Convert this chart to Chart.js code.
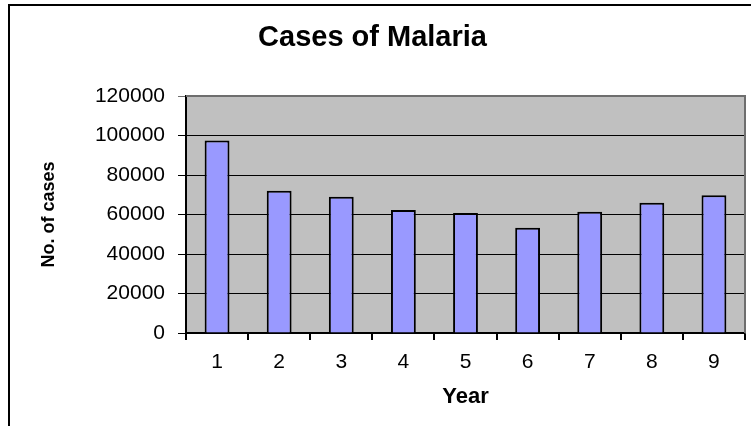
<!DOCTYPE html>
<html>
<head>
<meta charset="utf-8">
<script src="https://cdn.jsdelivr.net/npm/chart.js@4"></script>
<style>
  html, body { margin: 0; padding: 0; background: #ffffff; }
  canvas { display: block; }
</style>
</head>
<body>
<canvas id="c" width="751" height="426"></canvas>
<script>
const years = ['1', '2', '3', '4', '5', '6', '7', '8', '9'];
const cases = [97500, 72000, 69000, 62300, 60800, 53300, 61400, 66000, 69700];
const yTicks = [0, 20000, 40000, 60000, 80000, 100000, 120000];

const FONT = "'Liberation Sans', Arial, sans-serif";

const frame = {
  id: 'frame',
  beforeDraw(chart) {
    const { ctx, chartArea: a } = chart;
    ctx.save();
    ctx.fillStyle = '#C0C0C0';
    ctx.fillRect(a.left, a.top, a.right - a.left, a.bottom - a.top);
    ctx.restore();
  },
  afterDraw(chart) {
    const { ctx, chartArea: a } = chart;
    ctx.save();
    ctx.strokeStyle = '#6e6e6e';
    ctx.lineWidth = 2;
    ctx.beginPath();
    ctx.moveTo(a.left, a.top);
    ctx.lineTo(a.right, a.top);
    ctx.lineTo(a.right, a.bottom);
    ctx.stroke();
    ctx.strokeStyle = '#000';
    ctx.lineWidth = 2;
    ctx.strokeRect(9, 5, 900, 600);
    ctx.restore();
  }
};

new Chart(document.getElementById('c'), {
  type: 'bar',
  data: {
    labels: years,
    datasets: [{
      data: cases,
      backgroundColor: '#9999FF',
      borderColor: '#000000',
      borderWidth: 2,
      barPercentage: 0.4,
      categoryPercentage: 1.0
    }]
  },
  plugins: [frame],
  options: {
    responsive: false,
    animation: false,
    devicePixelRatio: 1,
    layout: { padding: { left: 0, right: 6, top: 0, bottom: 0 } },
    plugins: {
      legend: { display: false },
      tooltip: { enabled: false },
      title: {
        display: true,
        text: 'Cases of Malaria',
        color: '#000',
        font: { family: FONT, size: 29, weight: 'bold' },
        padding: { top: 20.6, bottom: 40.6 }
      }
    },
    scales: {
      x: {
        afterFit(scale) { scale.height = 93; },
        grid: {
          offset: true,
          drawOnChartArea: false,
          drawTicks: true,
          tickLength: 7,
          color: '#000',
          lineWidth: 2
        },
        border: { display: true, color: '#000', width: 1.5 },
        ticks: {
          color: '#000',
          font: { family: FONT, size: 21 },
          padding: 10,
          maxRotation: 0
        },
        title: {
          display: true,
          text: 'Year',
          color: '#000',
          font: { family: FONT, size: 22, weight: 'bold' },
          padding: { top: 0, bottom: 16 }
        }
      },
      y: {
        min: yTicks[0],
        max: yTicks[yTicks.length - 1],
        afterFit(scale) { scale.width = 186; },
        afterBuildTicks(scale) { scale.ticks = yTicks.map(v => ({ value: v })); },
        grid: {
          drawTicks: true,
          tickLength: 8,
          color: (ctx) => (ctx.tick && ctx.tick.value === 120000) ? '#6e6e6e' : '#000',
          lineWidth: 1
        },
        border: { display: true, color: '#000', width: 2 },
        ticks: {
          color: '#000',
          font: { family: FONT, size: 21 },
          padding: 13,
          callback: (v) => String(v)
        },
        title: {
          display: true,
          text: 'No. of cases',
          color: '#000',
          font: { family: FONT, size: 18, weight: 'bold' },
          padding: { top: 38.7, bottom: 0 }
        }
      }
    }
  }
});
</script>
</body>
</html>
